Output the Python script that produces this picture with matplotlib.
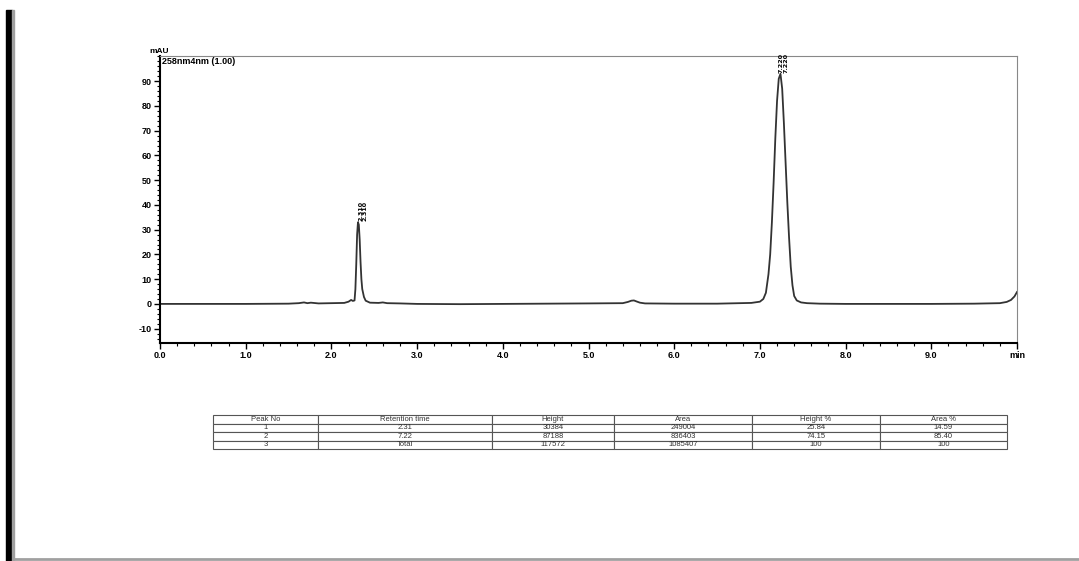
import matplotlib.pyplot as plt
from matplotlib.patches import Rectangle
from matplotlib.lines import Line2D
from matplotlib.ticker import MultipleLocator, FixedLocator

# chromatogram trace (time in min, signal in mAU)
time_min = [0.00, 0.50, 1.00, 1.50, 1.62, 1.68, 1.72, 1.76, 1.85, 2.00, 2.15,
            2.20, 2.23, 2.25, 2.27, 2.28, 2.29, 2.30, 2.31, 2.32, 2.33, 2.34,
            2.35, 2.36, 2.38, 2.40, 2.45, 2.55, 2.60, 2.65, 2.80, 3.00, 3.50,
            4.00, 4.50, 5.00, 5.40, 5.46, 5.50, 5.53, 5.56, 5.60, 5.66, 6.00,
            6.50, 6.90, 7.00, 7.04, 7.07, 7.10, 7.12, 7.14, 7.16, 7.18, 7.20,
            7.22, 7.24, 7.26, 7.28, 7.30, 7.32, 7.34, 7.36, 7.38, 7.40, 7.43,
            7.48, 7.55, 7.70, 8.00, 8.50, 9.00, 9.50, 9.80, 9.88, 9.93, 9.97,
            10.00]
signal_mau = [0.0, 0.0, 0.0, 0.1, 0.3, 0.6, 0.3, 0.5, 0.2, 0.3, 0.4,
              0.9, 1.6, 1.2, 1.4, 6.0, 16.0, 28.0, 33.0, 32.0, 26.0, 17.0,
              10.0, 6.0, 2.8, 1.3, 0.5, 0.4, 0.6, 0.3, 0.2, 0.0, -0.1,
              0.0, 0.1, 0.2, 0.3, 0.8, 1.3, 1.4, 1.0, 0.5, 0.2, 0.1,
              0.1, 0.4, 0.9, 2.0, 4.5, 12.0, 20.0, 33.0, 49.0, 67.0, 82.0,
              91.0, 93.0, 87.0, 73.0, 57.0, 41.0, 27.0, 15.0, 7.5, 3.2, 1.4,
              0.6, 0.3, 0.1, 0.0, 0.0, 0.0, 0.1, 0.3, 0.8, 1.6, 3.0,
              4.8]

# peak table
peak_no = ['1', '2', '3']
ret_time = ['2.31', '7.22', 'Total']
height = ['30384', '87188', '117572']
area = ['249004', '836403', '1085407']
height_pct = ['25.84', '74.15', '100']
area_pct = ['14.59', '85.40', '100']
col_labels = ['Peak No', 'Retention time', 'Height', 'Area', 'Height %', 'Area %']

peak_times = [2.31, 7.22]
peak_tops = [33.0, 93.0]

fig = plt.figure(figsize=(10.79, 5.61), dpi=100)
fig.patch.set_facecolor('white')

# page border on the left and bottom
fig.patches.append(Rectangle((6 / 1079, 0), 6 / 1079, 1 - 10 / 561,
                             transform=fig.transFigure, color='black'))
fig.patches.append(Rectangle((12 / 1079, 0), 2 / 1079, 1 - 10 / 561,
                             transform=fig.transFigure, color='#a0a0a0'))
fig.lines.append(Line2D([14 / 1079, 1], [2 / 561, 2 / 561],
                        transform=fig.transFigure, color='#a0a0a0', lw=2))

ax = fig.add_axes([160 / 1079, 1 - 343 / 561, 857 / 1079, 287 / 561])
ax.plot(time_min, signal_mau, color='#333333', lw=1.3)
ax.set_xlim(0, 10)
ax.set_ylim(-15.8, 100.2)

tick_font = dict(family='Liberation Sans', weight='bold', size=6.5)
ax.xaxis.set_major_locator(FixedLocator(range(0, 11)))
ax.set_xticklabels([f'{i}.0' for i in range(10)] + ['min'], **tick_font)
ax.xaxis.set_minor_locator(MultipleLocator(0.2))
ax.yaxis.set_major_locator(FixedLocator(range(-10, 100, 10)))
ax.set_yticklabels([str(v) for v in range(-10, 100, 10)], **tick_font)
ax.yaxis.set_minor_locator(MultipleLocator(2))
ax.tick_params(which='major', direction='out', length=4, width=1, pad=2)
ax.tick_params(which='minor', direction='out', length=2, width=0.8)
ax.spines['left'].set_linewidth(1.5)
ax.spines['bottom'].set_linewidth(1.5)
ax.spines['top'].set_color('#888888')
ax.spines['right'].set_color('#888888')

ax.text(-0.012, 1.005, 'mAU', transform=ax.transAxes, fontsize=6,
        fontweight='bold', family='Liberation Sans', va='bottom', ha='left')
ax.text(0.002, 0.995, '258nm4nm (1.00)', transform=ax.transAxes, fontsize=6.5,
        fontweight='bold', family='Liberation Sans', va='top', ha='left')

for t, top in zip(peak_times, peak_tops):
    ax.text(t + 0.06, top + 0.5, f'{t:.3f}\n{t:.3f}', rotation=90, fontsize=4.6,
            fontweight='bold', va='bottom', ha='center', linespacing=0.9)

# results table under the chromatogram
rows = list(zip(peak_no, ret_time, height, area, height_pct, area_pct))
tab_ax = fig.add_axes([213 / 1079, 1 - 449 / 561, 794 / 1079, 34 / 561])
tab_ax.axis('off')
widths = [105, 174, 122, 138, 128, 127]
tbl = tab_ax.table(cellText=rows, colLabels=col_labels, cellLoc='center',
                   colWidths=[w / 794 for w in widths], bbox=[0, 0, 1, 1])
tbl.auto_set_font_size(False)
for cell in tbl.get_celld().values():
    cell.set_edgecolor('#555555')
    cell.set_linewidth(0.8)
    cell.get_text().set_fontsize(5.5)
    cell.get_text().set_family('Liberation Sans')
    cell.get_text().set_color('#333333')

fig.savefig('out.png', dpi=100)
